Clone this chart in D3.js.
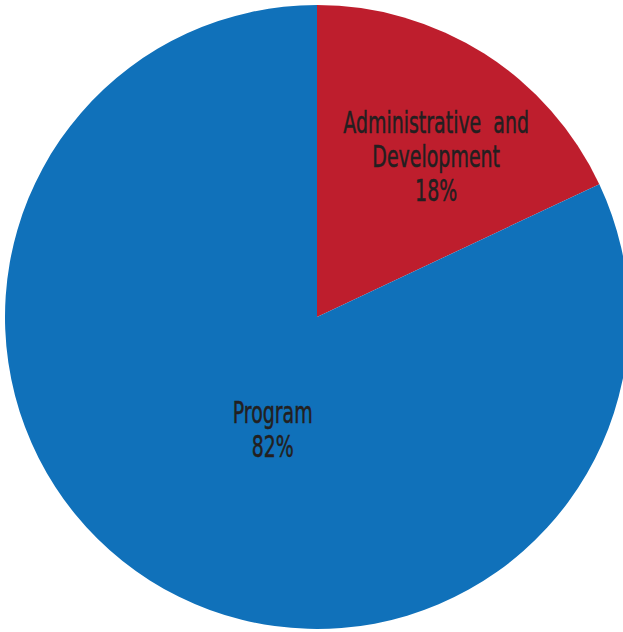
<!DOCTYPE html>
<html>
<head>
<meta charset="utf-8">
<script src="https://cdn.jsdelivr.net/npm/d3@7"></script>
<style>
  html, body { margin: 0; padding: 0; background: #fff; }
  svg { display: block; }
</style>
</head>
<body>
<svg id="chart" width="623" height="632"></svg>
<script>
const categories = [["Administrative", "and", "Development"], ["Program"]];
const values = [18, 82];
const colors = ["#BE1E2D", "#1071BA"];

const width = 623, height = 632;
const cx = 317, cy = 317, radius = 312;

const svg = d3.select('#chart');
const g = svg.append('g').attr('transform', `translate(${cx},${cy})`);

const data = values.map((v, i) => ({ name: categories[i], value: v, index: i }));

const pie = d3.pie()
    .value(d => d.value)
    .sort(null)
    .startAngle(0)
    .endAngle(2 * Math.PI);

const arcs = pie(data);

const arc = d3.arc().innerRadius(0).outerRadius(radius);

g.selectAll('path.slice')
    .data(arcs)
    .enter()
    .append('path')
    .attr('class', 'slice')
    .attr('d', arc)
    .attr('fill', (d, i) => colors[i]);

// label radius differs per slice, like the original layout
const labelArcs = [
    d3.arc().innerRadius(200).outerRadius(200),
    d3.arc().innerRadius(120).outerRadius(120)
];
const labelNudge = [[12, 8], [20, 11]];

const labels = g.selectAll('text.label')
    .data(arcs)
    .enter()
    .append('text')
    .attr('class', 'label')
    .attr('text-anchor', 'middle')
    .attr('fill', '#231F20')
    .attr('stroke', '#231F20')
    .attr('stroke-width', 0.5)
    .style('font-family', '"DejaVu Sans Condensed", "DejaVu Sans", sans-serif')
    .style('font-stretch', 'condensed')
    .style('font-size', '31px')
    .attr('transform', (d, i) => {
        const [x, y] = labelArcs[i].centroid(d);
        return `translate(${x + labelNudge[i][0]},${y + labelNudge[i][1]}) scale(0.68,1)`;
    });

labels.each(function (d) {
    const t = d3.select(this);
    const name = d.data.name;
    let lines;
    if (name.length === 3) lines = [name[0] + '\u00a0 ' + name[1], name[2]];
    else lines = [name[0]];
    lines.push(d3.format('.0f')(d.data.value) + '%');
    const lh = 34;
    const start = -(lines.length - 1) * lh / 2;
    lines.forEach((l, k) => {
        t.append('tspan')
            .attr('x', 0)
            .attr('y', start + k * lh)
            .attr('dy', '0.35em')
            .text(l);
    });
});
</script>
</body>
</html>
